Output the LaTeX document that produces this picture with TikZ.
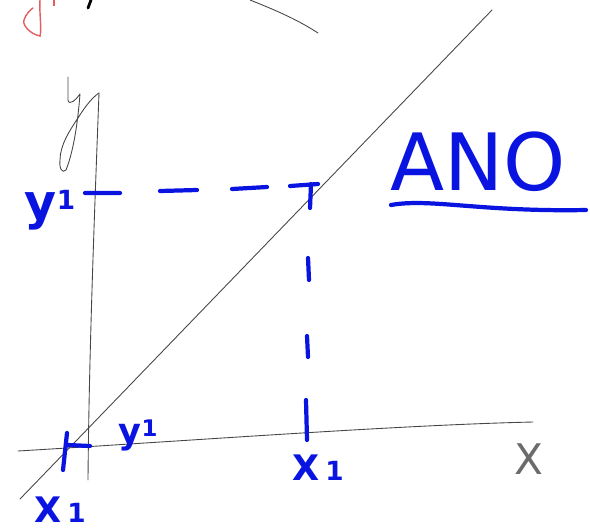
\documentclass[tikz,border=0pt]{standalone}
\usepackage{fontspec}
\setmainfont{DejaVu Sans}
\definecolor{pen}{RGB}{10,20,225}
\definecolor{redpen}{RGB}{225,95,95}
\definecolor{pencil}{RGB}{70,70,70}
\begin{document}
\begin{tikzpicture}[x=0.02cm,y=-0.02cm,
  thinline/.style={draw=pencil,line width=0.5pt,line cap=round,line join=round},
  blueline/.style={draw=pen,line width=2.4pt,line cap=round,line join=round},
  bluetext/.style={text=pen,inner sep=0pt,font=\bfseries\fontsize{20}{22}\selectfont},
  graytext/.style={text=pencil!80,inner sep=0pt,font=\fontsize{24}{26}\selectfont}]
\useasboundingbox (0,0) rectangle (590,531);
% fragments at top edge
\draw[draw=redpen,line width=0.8pt,line cap=round] (40,0) .. controls (39,10) and (42,30) .. (40,36) .. controls (30,34) and (22,25) .. (24,20) .. controls (26,14) and (30,10) .. (33,8);
\draw[draw=redpen,line width=0.8pt] (54,0) -- (54,6);
\draw[draw=black,line width=1.6pt,line cap=round] (91,0) -- (88,8);
\coordinate (c1) at (250,0);
\coordinate (c2) at (318,33);
\draw[thinline] (c1) .. controls (270,8) and (295,18) .. (c2);
% axes
\coordinate (ytop) at (99,93);
\coordinate (ybot) at (88,480);
\coordinate (xleft) at (18,451);
\coordinate (xright) at (533,422);
\coordinate (dlo) at (20,499);
\coordinate (dhi) at (492,10);
\draw[thinline] (ytop) .. controls (95,200) and (89,350) .. (ybot);
\draw[thinline] (xleft) .. controls (200,440) and (400,425) .. (xright);
\draw[thinline] (dlo) -- (dhi);
% y axis label (handwritten y)
\draw[thinline] (68,77) -- (68,100) .. controls (69,106) and (76,100) .. (80,94)
  .. controls (78,120) and (74,150) .. (66,170) .. controls (62,174) and (59,168) .. (60,160)
  .. controls (60,145) and (70,130) .. (78,118) .. controls (86,105) and (93,97) .. (ytop);
\node[graytext] (xlab) at (529,459) {X};
% blue dashes
\coordinate (h1a) at (85,193); \coordinate (h1b) at (120,193);
\coordinate (h2a) at (160,191); \coordinate (h2b) at (197,190);
\coordinate (h3a) at (232,189); \coordinate (h3b) at (267,187);
\coordinate (h4a) at (290,186); \coordinate (h4b) at (318,184);
\draw[blueline] (h1a) -- (h1b) (h2a) -- (h2b) (h3a) -- (h3b) (h4a) -- (h4b);
\coordinate (v1a) at (311,184); \coordinate (v1b) at (310,208);
\coordinate (v2a) at (308,258); \coordinate (v2b) at (309,280);
\coordinate (v3a) at (307,336); \coordinate (v3b) at (308,357);
\coordinate (v4a) at (306,400); \coordinate (v4b) at (307,440);
\draw[blueline] (v1a) -- (v1b) (v2a) -- (v2b) (v3a) -- (v3b) (v4a) -- (v4b);
% tick near origin
\coordinate (t1a) at (67,433); \coordinate (t1b) at (63,470);
\coordinate (t2a) at (68,445); \coordinate (t2b) at (90,446);
\draw[blueline] (t1a) -- (t1b) (t2a) -- (t2b);
% labels
\node[bluetext,font=\bfseries\fontsize{28}{30}\selectfont] (y1left) at (50,210) {y\raisebox{6pt}{\fontsize{15}{16}\selectfont 1}};
\node[bluetext] (y1small) at (138,435) {y\raisebox{4pt}{\fontsize{13}{14}\selectfont 1}};
\node[bluetext] (x1left) at (60,510) {X\,{\fontsize{15}{16}\selectfont 1}};
\node[bluetext] (x1right) at (318,468) {X\,{\fontsize{15}{16}\selectfont 1}};
\node[text=pen,inner sep=0pt,font=\fontsize{45}{50}\selectfont] (ano) at (478,162) {ANO};
\coordinate (u1) at (391,205); \coordinate (u2) at (586,210);
\draw[blueline] (u1) .. controls (430,198) and (480,212) .. (u2);
\end{tikzpicture}
\end{document}
